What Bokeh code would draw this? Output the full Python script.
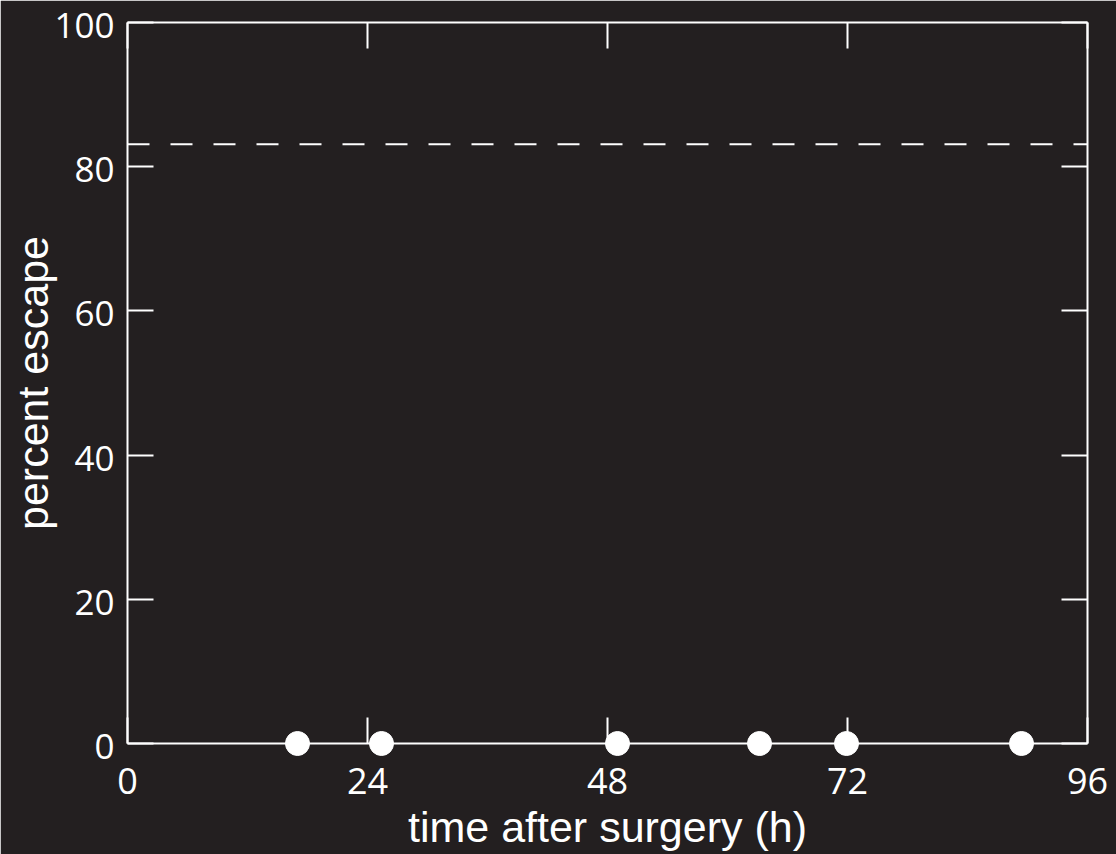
from bokeh.plotting import figure
from bokeh.models import LinearAxis, FixedTicker, Range1d, Span
from bokeh.core.properties import value
from bokeh.embed import file_html
from bokeh.resources import INLINE

# Escape trials after surgery
hours = [17, 25.4, 49, 63.2, 71.9, 89.4]
escape_pct = [0, 0, 0, 0, 0, 0]
control_level = 83.1

x_ticks = [0, 24, 48, 72, 96]
y_ticks = [0, 20, 40, 60, 80, 100]
y_tick_labels = [str(v) for v in y_ticks]

BG = "#231f20"
FG = "#ffffff"

p = figure(width=1116, height=854, output_backend="svg", toolbar_location=None,
           x_range=Range1d(0, 96), y_range=Range1d(0, 100),
           x_axis_location=None, y_axis_location=None,
           min_border_left=127, min_border_right=29,
           min_border_top=22, min_border_bottom=111)
p.background_fill_color = BG
p.border_fill_color = BG
p.outline_line_color = None
p.grid.visible = False


def style_axis(ax, show_labels):
    ax.axis_line_color = FG
    ax.axis_line_width = 2
    ax.major_tick_line_color = FG
    ax.major_tick_line_width = 2
    ax.major_tick_in = 26
    ax.major_tick_out = 0
    ax.minor_tick_line_color = None
    ax.major_label_text_color = FG
    ax.major_label_text_font = "Open Sans"
    ax.major_label_text_font_size = "36px"
    ax.major_label_standoff = 10
    ax.axis_label_text_color = FG
    ax.axis_label_text_font = "Liberation Sans"
    ax.axis_label_text_font_size = "43px"
    ax.axis_label_text_font_style = "normal"
    if not show_labels:
        ax.major_label_text_font_size = "0px"
        ax.major_label_text_color = None


xb = LinearAxis(ticker=FixedTicker(ticks=x_ticks), axis_label="time after surgery (h)")
style_axis(xb, True)
xb.major_label_standoff = 24
xb.axis_label_standoff = 6
p.add_layout(xb, "below")

xt = LinearAxis(ticker=FixedTicker(ticks=x_ticks))
style_axis(xt, False)
p.add_layout(xt, "above")

# left axis: line, ticks and title; its numbers are drawn as text glyphs below
yl = LinearAxis(ticker=FixedTicker(ticks=y_ticks), axis_label="percent escape")
style_axis(yl, False)
yl.major_label_standoff = 0
yl.axis_label_standoff = 71
p.add_layout(yl, "left")

yr = LinearAxis(ticker=FixedTicker(ticks=y_ticks))
style_axis(yr, False)
p.add_layout(yr, "right")

labels = p.text(x=[0] * len(y_ticks), y=y_ticks, text=y_tick_labels,
                x_offset=-13, y_offset=3, text_align="right", text_baseline="middle",
                text_font=value("Open Sans"), text_font_size="35px", text_color=FG)
labels.level = "overlay"

p.add_layout(Span(location=control_level, dimension="width", line_color=FG,
                  line_width=2, line_dash="22 21"))

r = p.scatter(hours, escape_pct, size=24, fill_color=FG, line_color=FG)
r.level = "overlay"

open("out.html", "w").write(file_html(p, INLINE))
